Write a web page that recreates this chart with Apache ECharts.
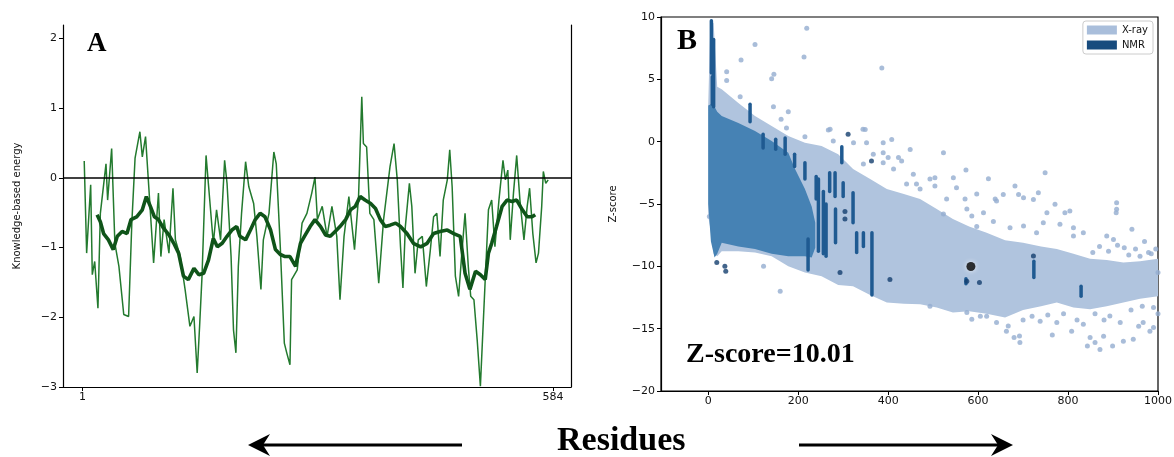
<!DOCTYPE html>
<html>
<head>
<meta charset="utf-8">
<title>Energy profile and Z-score</title>
<script src="https://cdn.jsdelivr.net/npm/echarts@6/dist/echarts.min.js"></script>
<style>
  html, body { margin: 0; padding: 0; background: #fff; }
  #chart { width: 1174px; height: 457px; }
</style>
</head>
<body>
<div id="chart"></div>
<script>
// ---- panel A: knowledge-based energy along the sequence ----
const residueTicks = [1, 584];
const energyTicks = [-3, -2, -1, 0, 1, 2];
// window size 10 (thin line)
const energyWin10 = [
  [3, 0.24], [6, -1.08], [11, -0.10], [13, -1.39], [16, -1.20], [20, -1.87], [23, -0.51],
  [30, 0.20], [32, -0.32], [37, 0.42], [41, -0.94], [46, -1.27], [52, -1.96], [58, -1.99],
  [62, -0.65], [66, 0.28], [72, 0.66], [75, 0.30], [79, 0.59], [83, -0.13], [89, -1.22],
  [95, -0.22], [98, -1.13], [102, -0.60], [108, -1.08], [113, -0.15], [116, -0.89],
  [122, -1.13], [128, -1.60], [134, -2.13], [139, -1.99], [143, -2.80], [146, -2.13],
  [149, -1.41], [154, 0.32], [157, -0.10], [163, -0.94], [167, -0.46], [172, -0.89],
  [177, 0.25], [180, -0.08], [185, -1.13], [188, -2.18], [191, -2.51], [194, -1.27],
  [198, -0.51], [203, 0.23], [207, -0.13], [213, -0.37], [217, -0.84], [222, -1.60],
  [225, -0.89], [232, -0.51], [238, 0.37], [241, 0.20], [246, -0.99], [251, -2.37],
  [254, -2.51], [258, -2.68], [260, -1.46], [267, -1.32], [273, -0.65], [279, -0.51],
  [285, -0.22], [289, 0.01], [292, -0.60], [298, -0.41], [304, -0.84], [310, -0.41],
  [316, -0.84], [320, -1.75], [325, -0.84], [331, -0.27], [338, -1.03], [343, -0.27],
  [347, 1.16], [349, 0.49], [353, 0.44], [357, -0.51], [362, -0.60], [368, -1.51],
  [374, -0.60], [382, 0.16], [387, 0.49], [391, -0.03], [395, -0.99], [398, -1.58],
  [401, -0.70], [406, -0.08], [409, -0.41], [413, -1.37], [417, -0.89], [422, -0.84],
  [427, -1.56], [432, -1.03], [436, -0.56], [440, -0.51], [444, -1.13], [448, -0.32],
  [453, -0.03], [456, 0.40], [459, -0.13], [463, -1.41], [467, -1.70], [471, -1.08],
  [475, -0.51], [479, -1.27], [482, -1.70], [486, -1.75], [490, -2.32], [494, -2.99],
  [497, -2.22], [500, -1.46], [504, -0.46], [508, -0.32], [512, -0.99], [517, -0.32],
  [522, 0.25], [525, -0.03], [528, 0.11], [531, -0.89], [535, -0.22], [539, 0.32],
  [543, -0.32], [548, -0.89], [552, -0.41], [555, -0.15], [559, -0.80], [563, -1.22],
  [566, -1.08], [570, -0.41], [572, 0.09], [575, -0.08], [578, -0.03]
];
// window size 40 (thick line)
const energyWin40 = [
  [19, -0.53], [23, -0.63], [27, -0.80], [33, -0.89], [39, -1.03], [44, -0.84], [50, -0.77],
  [56, -0.80], [61, -0.60], [68, -0.56], [75, -0.46], [80, -0.27], [85, -0.41], [90, -0.56],
  [95, -0.60], [101, -0.72], [108, -0.82], [114, -0.94], [120, -1.08], [126, -1.41],
  [132, -1.46], [139, -1.30], [145, -1.39], [151, -1.37], [157, -1.18], [163, -0.87],
  [168, -0.99], [174, -0.94], [180, -0.84], [186, -0.75], [192, -0.70], [196, -0.84],
  [203, -0.89], [209, -0.75], [215, -0.60], [221, -0.51], [227, -0.56], [234, -0.75],
  [240, -1.03], [246, -1.10], [252, -1.13], [258, -1.13], [265, -1.27], [271, -0.94],
  [277, -0.82], [283, -0.70], [289, -0.60], [296, -0.70], [302, -0.82], [308, -0.84],
  [314, -0.77], [320, -0.70], [327, -0.60], [333, -0.46], [339, -0.41], [345, -0.27],
  [351, -0.32], [358, -0.37], [364, -0.44], [370, -0.60], [376, -0.70], [382, -0.68],
  [389, -0.65], [395, -0.70], [403, -0.80], [411, -0.94], [420, -0.99], [428, -0.94],
  [436, -0.80], [444, -0.77], [453, -0.75], [461, -0.80], [469, -0.84], [475, -1.37],
  [481, -1.60], [488, -1.34], [494, -1.39], [500, -1.46], [504, -1.08], [508, -0.94],
  [514, -0.70], [521, -0.41], [527, -0.32], [533, -0.34], [539, -0.32], [546, -0.46],
  [552, -0.56], [558, -0.56], [562, -0.53]
];

// ---- panel B: Z-score vs number of residues ----
const zResTicks = [0, 200, 400, 600, 800, 1000];
// dense X-ray cloud: lower / upper edge per residue count
const xrayBandX    = [0, 5, 12, 20, 30, 67, 104, 141, 178, 215, 252, 289, 322, 360, 397, 435, 471, 508, 544, 580, 619, 660, 700, 740, 775, 812, 849, 886, 923, 960, 1000];
const xrayBandHigh = [3.0, 9.8, 9.5, 4.4, 4.2, 3.1, 2.06, 1.26, 0.45, -0.08, -0.35, -1.0, -2.2, -3.0, -3.8, -4.2, -4.6, -5.4, -6.2, -6.8, -7.3, -7.9, -8.1, -8.4, -8.6, -9.0, -9.4, -9.5, -9.7, -9.6, -9.4];
const xrayBandLow  = [-6.0, -7.0, -9.0, -9.2, -8.8, -8.8, -8.9, -9.2, -10.0, -10.5, -10.8, -11.5, -11.6, -12.3, -12.9, -13.0, -13.05, -13.3, -13.7, -13.6, -13.8, -14.1, -13.5, -13.2, -12.9, -13.3, -13.45, -13.2, -12.9, -12.6, -12.4];
// dense NMR cloud
const nmrBandX    = [0, 6, 14, 20, 30, 67, 104, 141, 178, 193, 215, 230, 238];
const nmrBandHigh = [2.9, 3.0, 2.8, 2.4, 2.06, 1.5, 0.86, 0.05, -0.88, -2.2, -3.8, -5.2, -6.5];
const nmrBandLow  = [-5.0, -8.0, -9.3, -9.0, -8.1, -8.4, -8.6, -9.0, -9.2, -9.2, -9.2, -9.3, -8.5];
// scattered X-ray structures
const xrayPoints = [
  [219, 9.1], [104, 7.8], [73, 6.55], [213, 6.8], [386, 5.9], [146, 5.4], [141, 5.05], [41, 5.6],
  [41, 4.9], [71, 3.6], [145, 2.8], [178, 2.4], [162, 1.8], [174, 1.1], [215, 0.4], [267, 0.94],
  [271, 1.0], [344, 1.0], [349, 0.98], [278, 0.05], [323, -0.08], [352, -0.08], [389, -0.08],
  [408, 0.18], [449, -0.62], [523, -0.88], [367, -1.0], [389, -0.88], [400, -1.28], [423, -1.28],
  [430, -1.55], [345, -1.8], [389, -1.69], [412, -2.2], [456, -2.62], [493, -3.0], [504, -2.9],
  [545, -2.9], [573, -2.28], [623, -2.97], [463, -3.4], [441, -3.4], [471, -3.8], [504, -3.55],
  [552, -3.7], [597, -4.2], [638, -4.6], [571, -4.6], [530, -4.6], [575, -5.4], [612, -5.7],
  [586, -5.96], [523, -5.8], [634, -6.4], [597, -6.8], [749, -2.5], [682, -3.56], [734, -4.1],
  [701, -4.5], [723, -4.63], [690, -4.23], [641, -4.76], [656, -4.23], [771, -5.03], [793, -5.7],
  [804, -5.56], [908, -4.9], [908, -5.43], [907, -5.7], [753, -5.7], [782, -6.63], [812, -6.9],
  [812, -7.57], [745, -6.5], [730, -7.3], [834, -7.3], [942, -7.03], [886, -7.57], [901, -7.84],
  [979, -8.9], [701, -6.76], [671, -6.9], [2.5, -6.0], [123, -10.0], [160, -12.0],
  [925, -8.5], [950, -8.6], [960, -9.2], [985, -9.0], [935, -9.1], [870, -8.4], [855, -8.9],
  [890, -8.8], [910, -8.3], [995, -8.6], [970, -8.0], [1000, -10.5],
  [493, -13.2], [575, -13.7], [586, -14.25], [619, -14.0], [693, -16.1], [692, -15.58],
  [738, -14.4], [775, -14.5], [808, -15.2], [834, -14.65], [849, -15.7], [860, -16.1],
  [871, -16.67], [879, -15.6], [923, -16.0], [945, -15.85], [967, -14.5], [982, -15.2],
  [893, -13.98], [667, -14.78], [641, -14.5], [605, -14.0], [663, -15.2], [680, -15.7],
  [765, -15.5], [990, -14.9], [957, -14.8], [916, -14.5], [843, -16.4], [899, -16.4],
  [700, -14.3], [720, -14.0], [755, -13.9], [790, -13.8], [820, -14.3], [860, -13.8],
  [880, -14.3], [940, -13.5], [965, -13.2], [990, -13.3], [1000, -13.8]
];
// NMR structures lying in vertical runs: [residues, top z, bottom z]
const nmrStreaks = [
  [7, 9.7, 5.5], [12, 8.2, 2.8], [9, 5.2, 3.0], [93, 3.0, 1.6], [122, 0.6, -0.5], [150, 0.2, -0.6],
  [171, 0.3, -1.0], [192, -1.0, -2.0], [215, -1.7, -3.0], [222, -7.8, -10.3], [240, -2.8, -4.6],
  [245, -3.0, -8.8], [256, -4.0, -9.0], [262, -5.0, -9.2], [270, -2.5, -4.0], [282, -2.5, -4.4],
  [283, -5.4, -8.1], [297, -0.4, -1.7], [300, -3.3, -4.4], [322, -4.1, -6.5], [330, -7.3, -8.9],
  [345, -7.3, -8.4], [364, -7.3, -12.3], [573, -11.0, -11.4], [724, -9.6, -10.9], [829, -11.6, -12.4]
];
const nmrPoints = [
  [311, 0.6], [363, -1.55], [19, -9.7], [37, -10.0], [39, -10.4], [293, -10.5], [404, -11.05],
  [575, -11.2], [603, -11.3], [723, -9.17], [304, -5.6], [304, -6.2]
];
const queryPoint = [584, -10.01];

const minus = v => String(v).replace('-', '\u2212');
const tickFont = { fontFamily: 'DejaVu Sans', fontSize: 11, color: '#111' };

function bandSeries(name, xs, lo, hi, color, z) {
  return {
    name: name,
    type: 'custom',
    xAxisIndex: 1,
    yAxisIndex: 2,
    z: z,
    silent: true,
    clip: true,
    itemStyle: { color: color },
    data: xs.map((x, i) => [x, lo[i], hi[i]]),
    encode: { x: 0, y: [1, 2] },
    renderItem: function (params, api) {
      if (params.dataIndex !== 0) return;
      const pts = [];
      for (let i = 0; i < xs.length; i++) pts.push(api.coord([xs[i], hi[i]]));
      for (let i = xs.length - 1; i >= 0; i--) pts.push(api.coord([xs[i], lo[i]]));
      return { type: 'polygon', shape: { points: pts }, style: { fill: color } };
    }
  };
}

const chart = echarts.init(document.getElementById('chart'));
chart.setOption({
  animation: false,
  backgroundColor: '#fff',
  grid: [
    { left: 63, top: 25, width: 508, height: 362, outerBoundsMode: 'none' },
    { left: 661, top: 17, width: 497, height: 374, outerBoundsMode: 'none',
      show: true, borderColor: '#000', borderWidth: 1.2, backgroundColor: 'transparent' }
  ],
  xAxis: [
    {
      gridIndex: 0, type: 'value', min: -23.3, max: 606.3,
      axisLine: { show: true, onZero: false, lineStyle: { color: '#000', width: 1.2 } },
      axisTick: { show: true, customValues: residueTicks, length: 4, lineStyle: { color: '#000' } },
      axisLabel: Object.assign({ customValues: residueTicks, margin: 5, formatter: v => String(v) }, tickFont),
      splitLine: { show: false }
    },
    {
      gridIndex: 1, type: 'value', min: -105, max: 1000,
      axisLine: { show: true, onZero: false, lineStyle: { color: '#000', width: 1.2 } },
      axisTick: { show: true, customValues: zResTicks, length: 4, lineStyle: { color: '#000' } },
      axisLabel: Object.assign({ customValues: zResTicks, margin: 5, formatter: v => String(v) }, tickFont),
      splitLine: { show: false }
    }
  ],
  yAxis: [
    {
      gridIndex: 0, type: 'value', min: -3, max: 2.19,
      name: 'Knowledge-based energy', nameLocation: 'middle', nameGap: 41,
      nameTextStyle: { fontFamily: 'DejaVu Sans', fontSize: 10, color: '#111' },
      axisLine: { show: true, onZero: false, lineStyle: { color: '#000', width: 1.2 } },
      axisTick: { show: true, customValues: energyTicks, length: 4, lineStyle: { color: '#000' } },
      axisLabel: Object.assign({ customValues: energyTicks, formatter: minus, margin: 6 }, tickFont),
      splitLine: { show: false }
    },
    {
      gridIndex: 0, type: 'value', min: -3, max: 2.19, position: 'right',
      axisLine: { show: true, onZero: false, lineStyle: { color: '#000', width: 1.2 } },
      axisTick: { show: false }, axisLabel: { show: false }, splitLine: { show: false }
    },
    {
      gridIndex: 1, type: 'value', min: -20, max: 10, interval: 5,
      name: 'Z-score', nameLocation: 'middle', nameGap: 43,
      nameTextStyle: { fontFamily: 'DejaVu Sans', fontSize: 10, color: '#111' },
      axisLine: { show: true, onZero: false, lineStyle: { color: '#000', width: 1.2 } },
      axisTick: { show: true, length: 4, lineStyle: { color: '#000' } },
      axisLabel: Object.assign({ formatter: minus, margin: 6 }, tickFont),
      splitLine: { show: false }
    }
  ],
  legend: {
    data: [
      { name: 'X-ray', itemStyle: { color: '#a9bedb' } },
      { name: 'NMR', itemStyle: { color: '#174b7e' } }
    ],
    orient: 'vertical', right: 21, top: 21,
    icon: 'rect', itemWidth: 30, itemHeight: 9, itemGap: 5,
    padding: [4, 5, 4, 4],
    borderColor: '#ccc', borderWidth: 1, borderRadius: 3, backgroundColor: '#fff',
    textStyle: { fontFamily: 'DejaVu Sans', fontSize: 10, color: '#111' },
    selectedMode: false
  },
  series: [
    {
      name: 'window 10', type: 'line', xAxisIndex: 0, yAxisIndex: 0,
      data: energyWin10, showSymbol: false, z: 2,
      lineStyle: { color: '#237a2e', width: 1.5 },
      markLine: {
        silent: true, symbol: 'none', label: { show: false },
        lineStyle: { color: '#000', width: 1.6, type: 'solid' },
        data: [{ yAxis: 0 }]
      }
    },
    {
      name: 'window 40', type: 'line', xAxisIndex: 0, yAxisIndex: 0,
      data: energyWin40, showSymbol: false, z: 3,
      lineStyle: { color: '#0f5419', width: 3.6 }
    },
    bandSeries('X-ray', xrayBandX, xrayBandLow, xrayBandHigh, '#b0c4de', 1),
    {
      name: 'X-ray points', type: 'scatter', xAxisIndex: 1, yAxisIndex: 2, z: 2,
      data: xrayPoints, symbolSize: 5, silent: true,
      itemStyle: { color: '#93acd0' }
    },
    bandSeries('NMR', nmrBandX, nmrBandLow, nmrBandHigh, '#4682b4', 3),
    {
      name: 'NMR runs', type: 'custom', xAxisIndex: 1, yAxisIndex: 2, z: 4,
      silent: true, clip: true,
      data: nmrStreaks, encode: { x: 0, y: [1, 2] },
      renderItem: function (params, api) {
        const a = api.coord([api.value(0), api.value(1)]);
        const b = api.coord([api.value(0), api.value(2)]);
        return {
          type: 'line', shape: { x1: a[0], y1: a[1], x2: b[0], y2: b[1] },
          style: { stroke: '#1f5a91', lineWidth: 3.5, lineCap: 'round' }
        };
      }
    },
    {
      name: 'NMR points', type: 'scatter', xAxisIndex: 1, yAxisIndex: 2, z: 5,
      data: nmrPoints, symbolSize: 5, silent: true,
      itemStyle: { color: '#143f6e' }
    },
    {
      name: 'query', type: 'scatter', xAxisIndex: 1, yAxisIndex: 2, z: 6,
      data: [queryPoint], symbolSize: 9, silent: true,
      itemStyle: { color: '#000', shadowBlur: 5, shadowColor: '#fff' }
    }
  ],
  graphic: [
    { type: 'text', x: 87, y: 44, style: { text: 'A', font: 'bold 27px "Liberation Serif"', fill: '#000', verticalAlign: 'middle' } },
    { type: 'text', x: 677, y: 41.5, style: { text: 'B', font: 'bold 30px "Liberation Serif"', fill: '#000', verticalAlign: 'middle' } },
    { type: 'text', x: 686, y: 355, z: 10, style: { text: 'Z-score=10.01', font: 'bold 28px "Liberation Serif"', fill: '#000', verticalAlign: 'middle' } },
    { type: 'text', x: 557, y: 441, style: { text: 'Residues', font: 'bold 34px "Liberation Serif"', fill: '#000', verticalAlign: 'middle' } },
    // arrows
    { type: 'line', shape: { x1: 262, y1: 445, x2: 462, y2: 445 }, style: { stroke: '#000', lineWidth: 3 } },
    { type: 'polygon', shape: { points: [[248, 445], [270, 434], [263, 445], [270, 456]] }, style: { fill: '#000' } },
    { type: 'line', shape: { x1: 799, y1: 445, x2: 999, y2: 445 }, style: { stroke: '#000', lineWidth: 3 } },
    { type: 'polygon', shape: { points: [[1013, 445], [991, 434], [998, 445], [991, 456]] }, style: { fill: '#000' } }
  ]
});
</script>
</body>
</html>
